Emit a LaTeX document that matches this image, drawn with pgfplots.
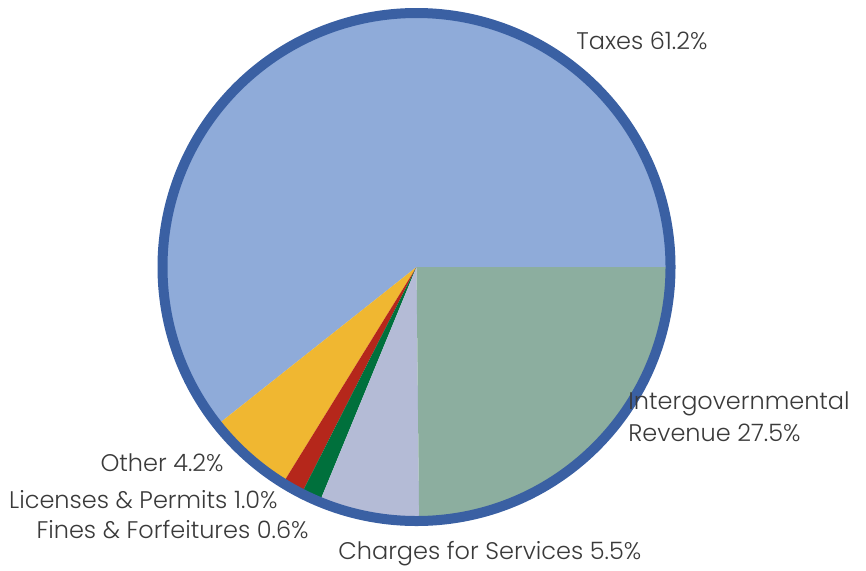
\documentclass[border=0pt]{standalone}
\usepackage{pgfplots}
\usepackage{pgfplotstable}
\pgfplotsset{compat=1.18}
\usepackage{fontspec}
\setmainfont{Poppins}[UprightFont=* Light]

\definecolor{cTax}{HTML}{8FABD9}
\definecolor{cInt}{HTML}{8CAE9F}
\definecolor{cChg}{HTML}{B4BBD6}
\definecolor{cFin}{HTML}{00703C}
\definecolor{cLic}{HTML}{B5271B}
\definecolor{cOth}{HTML}{F0B731}
\definecolor{cRim}{HTML}{3A60A3}
\definecolor{cTxt}{HTML}{3A3A3A}

\tikzset{lbl/.style={font=\fontsize{12}{14}\selectfont, text=cTxt, inner sep=0pt}}

% slice sizes in degrees, counterclockwise from 3 o'clock
\pgfplotstableread[col sep=comma]{
name,deg,col
Taxes,218.4,cTax
Other,19.9,cOth
Licenses,4.8,cLic
Fines,4.5,cFin
Charges,23.0,cChg
Intergov,89.4,cInt
}\slices

\begin{document}
\begin{tikzpicture}
\begin{axis}[
    width=433pt, height=285pt,
    scale only axis,
    xmin=0, xmax=866, ymin=0, ymax=570,
    hide axis,
    clip=false,
  ]
  \addplot[draw=none] coordinates {(0,0) (866,570)};
  \path (axis cs:0,0) rectangle (axis cs:866,570);
  \def\startang{0}
  \pgfplotsforeachungrouped \i in {0,...,5}{
    \pgfplotstablegetelem{\i}{deg}\of\slices \let\d\pgfplotsretval
    \pgfplotstablegetelem{\i}{col}\of\slices \let\c\pgfplotsretval
    \pgfmathsetmacro\endang{\startang+\d}
    \edef\temp{\noexpand\fill[\c] (axis cs:416.5,303) -- ++(\startang:127pt)
      arc[start angle=\startang, end angle=\endang, radius=127pt] -- cycle;}
    \temp
    \let\startang\endang
  }
  \draw[cRim, line width=5pt] (axis cs:416.5,303) circle[radius=127pt];

  \node[lbl, anchor=base west] at (axis cs:576,521) {Taxes 61.2\%};
  \node[lbl, anchor=base west] at (axis cs:628,161) {Intergovernmental};
  \node[lbl, anchor=base west] at (axis cs:628,129) {Revenue 27.5\%};
  \node[lbl, anchor=base east] at (axis cs:224,99) {Other 4.2\%};
  \node[lbl, anchor=base east] at (axis cs:278,62) {Licenses \& Permits 1.0\%};
  \node[lbl, anchor=base east] at (axis cs:309,32) {Fines \& Forfeitures 0.6\%};
  \node[lbl, anchor=base west] at (axis cs:338,11) {Charges for Services 5.5\%};
\end{axis}
\end{tikzpicture}
\end{document}
